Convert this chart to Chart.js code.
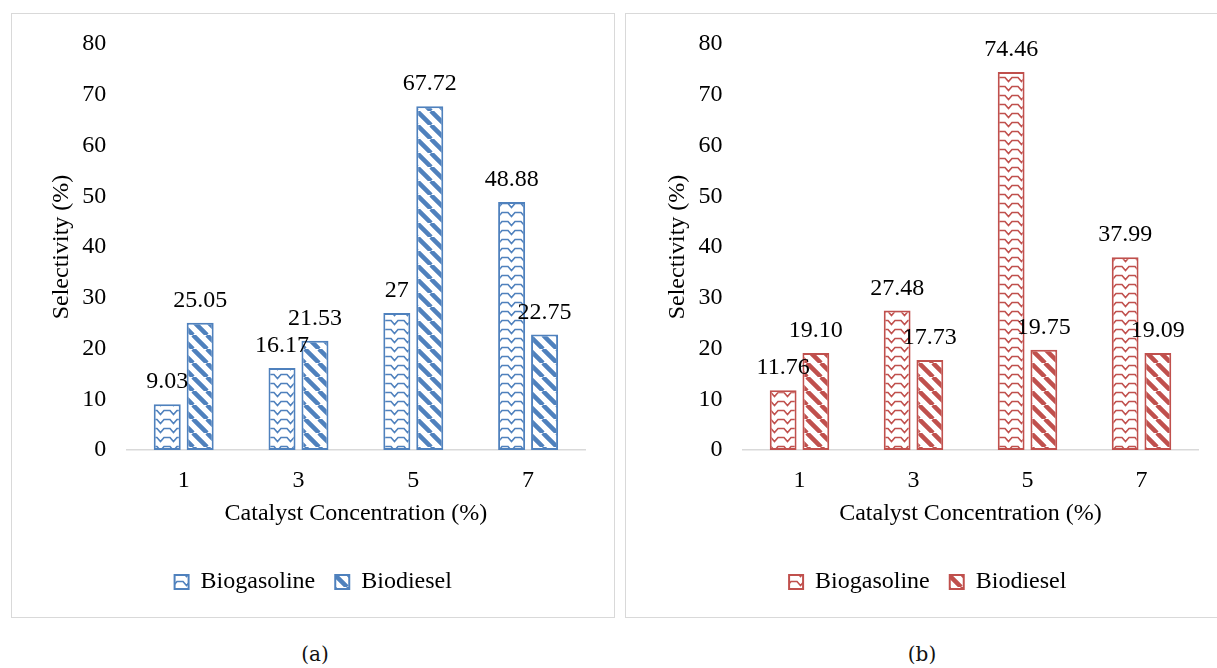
<!DOCTYPE html>
<html>
<head>
<meta charset="utf-8">
<title>Selectivity vs catalyst concentration</title>
<script src="https://cdn.jsdelivr.net/npm/chart.js@4/dist/chart.umd.min.js"></script>
<style>
  html, body { margin: 0; padding: 0; background: #fff; }
  body { width: 1217px; height: 668px; overflow: hidden; position: relative; }
  .panel { position: absolute; top: 13px; width: 604px; height: 605px; box-sizing: border-box; border: 1.5px solid #d9d9d9; }
  canvas.chart { position: absolute; top: 13px; }
  .caption { position: absolute; top: 642px; font: 20px "DejaVu Serif", serif; color: #111; transform: translateX(-50%); }
</style>
</head>
<body>
<div class="panel" style="left:11px"></div>
<div class="panel" style="left:625px"></div>
<canvas id="chartA" class="chart" width="604" height="605" style="left:11px"></canvas>
<canvas id="chartB" class="chart" width="604" height="605" style="left:625px"></canvas>
<div class="caption" style="left:315px">(a)</div>
<div class="caption" style="left:922px">(b)</div>

<script>
// ─── Data ─────────────────────────────────────────────────
const categories = ['1', '3', '5', '7'];
const seriesNames = ['Biogasoline', 'Biodiesel'];

const gasolineA = [9.03, 16.17, 27, 48.88];
const dieselA   = [25.05, 21.53, 67.72, 22.75];
const gasolineB = [11.76, 27.48, 74.46, 37.99];
const dieselB   = [19.10, 17.73, 19.75, 19.09];

// labels as printed above the bars
const gasolineTextA = ['9.03', '16.17', '27', '48.88'];
const dieselTextA   = ['25.05', '21.53', '67.72', '22.75'];
const gasolineTextB = ['11.76', '27.48', '74.46', '37.99'];
const dieselTextB   = ['19.10', '17.73', '19.75', '19.09'];

const yMin = 0, yMax = 80, yStep = 10;

// ─── Patterns ─────────────────────────────────────────────
function wavePattern(color) {
  const c = document.createElement('canvas');
  c.width = 13; c.height = 9;
  const g = c.getContext('2d');
  g.fillStyle = '#fff';
  g.fillRect(0, 0, 13, 9);
  g.strokeStyle = color;
  g.lineWidth = 1.6;
  g.beginPath();
  g.moveTo(0, 1.5); g.lineTo(3, 1.5); g.lineTo(6.5, 5.5); g.lineTo(10, 1.5); g.lineTo(13, 1.5);
  g.stroke();
  return g.createPattern(c, 'repeat');
}

function stripePattern(color) {
  const s = 14;
  const c = document.createElement('canvas');
  c.width = s; c.height = s;
  const g = c.getContext('2d');
  g.fillStyle = '#fff';
  g.fillRect(0, 0, s, s);
  g.strokeStyle = color;
  g.lineWidth = 4.5;
  g.beginPath();
  [-s, 0, s].forEach(k => { g.moveTo(k, 0); g.lineTo(k + s, s); });
  g.stroke();
  return g.createPattern(c, 'repeat');
}

// ─── Value labels above bars ──────────────────────────────
const valueLabels = {
  id: 'valueLabels',
  afterDatasetsDraw(chart) {
    const { ctx } = chart;
    ctx.save();
    ctx.font = '24px "Liberation Serif"';
    ctx.fillStyle = '#000';
    ctx.textAlign = 'center';
    ctx.textBaseline = 'alphabetic';
    chart.data.datasets.forEach((ds, i) => {
      chart.getDatasetMeta(i).data.forEach((bar, j) => {
        ctx.fillText(ds.valueText[j], bar.x, bar.y - 16);
      });
    });
    ctx.restore();
  }
};

const font = { family: '"Liberation Serif"', size: 24 };
// short line height on y ticks so the top label doesn't push the plot down
const yTickFont = { family: '"Liberation Serif"', size: 24, lineHeight: 0.6 };

// note: chart.js counts tick padding twice when sizing an axis,
// so the title paddings below go negative to win that space back
function makeChart(id, color, gas, diesel, gasText, dieselText, pad) {
  new Chart(document.getElementById(id), {
    type: 'bar',
    data: {
      labels: categories,
      datasets: [
        { label: seriesNames[0], data: gas, valueText: gasText,
          backgroundColor: wavePattern(color), borderColor: color },
        { label: seriesNames[1], data: diesel, valueText: dieselText,
          backgroundColor: stripePattern(color), borderColor: color }
      ]
    },
    options: {
      responsive: false,
      animation: false,
      datasets: { bar: { borderWidth: 2, borderSkipped: false, categoryPercentage: 0.574, barPercentage: 0.82 } },
      layout: { padding: { left: pad.left, right: pad.right, top: 31, bottom: 14 } },
      plugins: {
        tooltip: { enabled: false },
        legend: {
          position: 'bottom',
          labels: { font, color: '#000', boxWidth: 14, boxHeight: 14, padding: 20 }
        }
      },
      scales: {
        x: {
          grid: { display: false, drawTicks: false },
          border: { display: true, color: '#d9d9d9', width: 1.5 },
          ticks: { font, color: '#000', padding: 16 },
          title: { display: true, text: 'Catalyst Concentration (%)', font, color: '#000', padding: { top: -11.2, bottom: 21.6 } }
        },
        y: {
          min: yMin, max: yMax,
          grid: { display: false, drawTicks: false },
          border: { display: false },
          ticks: { stepSize: yStep, font: yTickFont, color: '#000', padding: 20 },
          title: { display: true, text: 'Selectivity (%)', font, color: '#000', padding: { top: pad.titleTop, bottom: pad.titleBottom } }
        }
      }
    },
    plugins: [valueLabels]
  });
}

makeChart('chartA', '#4f81bd', gasolineA, dieselA, gasolineTextA, dieselTextA,
  { left: 30, right: 29.5, titleTop: 6.6, titleBottom: -14.1 });
makeChart('chartB', '#c0504d', gasolineB, dieselB, gasolineTextB, dieselTextB,
  { left: 32, right: 30.5, titleTop: 6.6, titleBottom: -13.9 });
</script>
</body>
</html>
